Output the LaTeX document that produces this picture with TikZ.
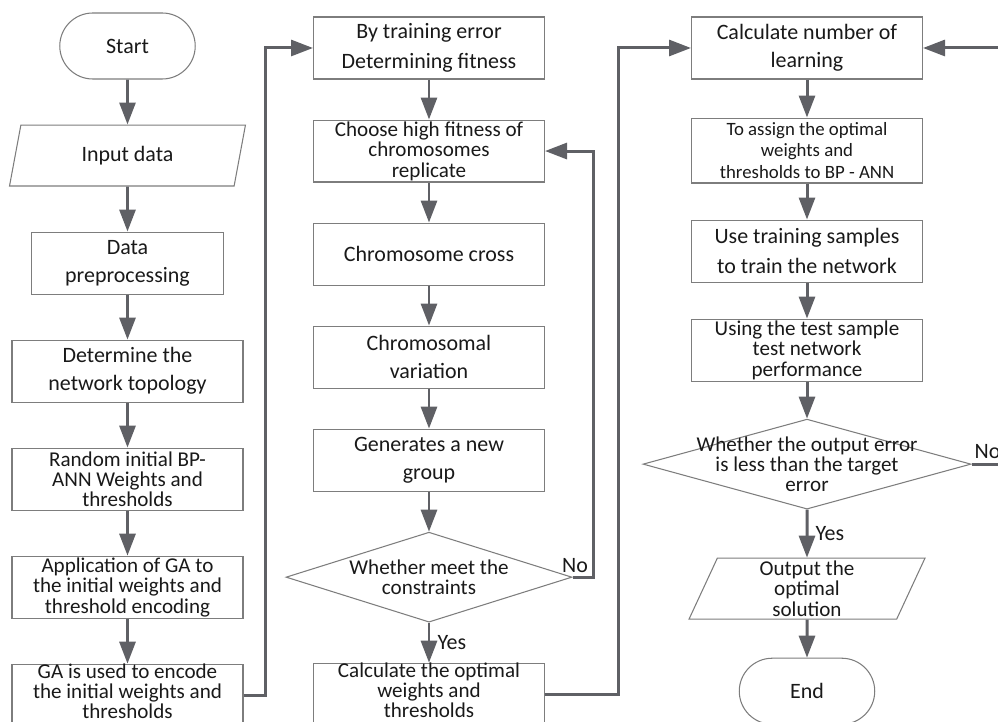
\documentclass[tikz,border=0pt]{standalone}
\usepackage{fontspec}
\setmainfont{Carlito}
\usetikzlibrary{positioning,shapes.geometric,shapes.misc,arrows.meta}

\definecolor{flowgray}{RGB}{95,96,101}
\definecolor{edgegray}{RGB}{125,125,125}
\definecolor{inkgray}{RGB}{25,25,25}

\tikzset{
  base/.style={draw=edgegray, line width=0.6pt, text=inkgray, align=center,
    inner sep=1pt, font=\fontsize{12.5}{16}\selectfont},
  proc/.style={base, rectangle, minimum width=4.62cm, minimum height=1.24cm},
  term/.style={base, rounded rectangle, minimum width=2.78cm, minimum height=1.32cm},
  io/.style={base, trapezium, trapezium left angle=63, trapezium right angle=117,
    trapezium stretches body, minimum width=4.72cm, minimum height=1.22cm},
  dec/.style={base, diamond, minimum height=1.8cm},
  tight/.style={inner sep=0pt, font=\fontsize{12}{11.6}\selectfont},
  lifted/.style={font=\fontsize{12}{11.2}\selectfont, text depth=5pt},
  dtext/.style={text=inkgray, align=center, font=\fontsize{12}{11.6}\selectfont},
  small/.style={font=\fontsize{10.7}{12.5}\selectfont},
  lbl/.style={text=inkgray, inner sep=2pt, font=\fontsize{12.5}{15}\selectfont},
  flow/.style={draw=flowgray, line width=1.7pt, -{Triangle[length=0.44cm,width=0.32cm]}},
}

\begin{document}
\begin{tikzpicture}[x=0.02cm, y=-0.02cm]
  \useasboundingbox (0,0) rectangle (998,722);

  % preparing the network
  \node[term] (start) at (127.5,46) {Start};
  \node[io, below=0.9cm of start] (input) {Input data};
  \node[proc, below=0.9cm of input, minimum width=3.84cm] (prep) {Data\\preprocessing};
  \node[proc, below=0.9cm of prep] (topo) {Determine the\\network topology};
  \node[proc, tight, below=0.9cm of topo] (rand) {Random initial BP-\\ANN Weights and\\thresholds};
  \node[proc, tight, below=0.9cm of rand] (apply) {Application of GA to\\the initial weights and\\threshold encoding};
  \node[proc, tight, lifted, below=0.9cm of apply] (encode) {GA is used to encode\\the initial weights and\\thresholds};

  % genetic algorithm
  \node[proc, font=\fontsize{12.5}{17}\selectfont] (fit) at (429,48) {By training error\\Determining fitness};
  \node[proc, tight, below=0.8cm of fit] (select) {Choose high fitness of\\chromosomes\\replicate};
  \node[proc, below=0.8cm of select] (cross) {Chromosome cross};
  \node[proc, below=0.8cm of cross] (mut) {Chromosomal\\variation};
  \node[proc, below=0.8cm of mut] (newgrp) {Generates a new\\group};
  \node[dec, minimum width=5.72cm, below=0.8cm of newgrp,
    label={[dtext]center:{Whether meet the\\constraints}}] (meet) {};
  \node[proc, tight, lifted, below=0.8cm of meet] (opt) {Calculate the optimal\\weights and\\thresholds};

  % training the BP network
  \node[proc] (count) at (807,48) {Calculate number of\\learning};
  \node[proc, small, minimum height=1.3cm, below=0.76cm of count] (assign) {To assign the optimal\\weights and\\thresholds to BP - ANN};
  \node[proc, font=\fontsize{12.5}{17}\selectfont, below=0.72cm of assign] (train) {Use training samples\\to train the network};
  \node[proc, tight, below=0.72cm of train] (test) {Using the test sample\\test network\\performance};
  \node[dec, minimum width=6.56cm, below=0.74cm of test,
    label={[dtext]center:{Whether the output error\\is less than the target\\error}}] (err) {};
  \node[io, tight, below=0.96cm of err] (out) {Output the\\optimal\\solution};
  \node[term, below=0.76cm of out] (stop) {End};

  \foreach \a/\b in {start/input, input/prep, prep/topo, topo/rand, rand/apply, apply/encode,
      fit/select, select/cross, cross/mut, mut/newgrp, newgrp/meet,
      count/assign, assign/train, train/test, test/err, out/stop}
    \draw[flow] (\a) -- (\b);

  \draw[flow] (meet) -- node[lbl, right, xshift=2pt] {Yes} (opt);
  \draw[flow] (err) -- node[lbl, right, xshift=2pt] {Yes} (out);

  \draw[flow] (encode.east) -- ++(22,0) |- (fit.west);
  \draw[flow] (meet.east) -- node[lbl, above, xshift=-0.16cm] {No} ++(21,0) |- (select.east);
  \draw[flow] (opt.east) -- ++(73,0) |- (count.west);
  \draw[flow] (err.east) -- node[lbl, above, pos=0.4] {No} ++(40,0) |- (count.east);
\end{tikzpicture}
\end{document}
